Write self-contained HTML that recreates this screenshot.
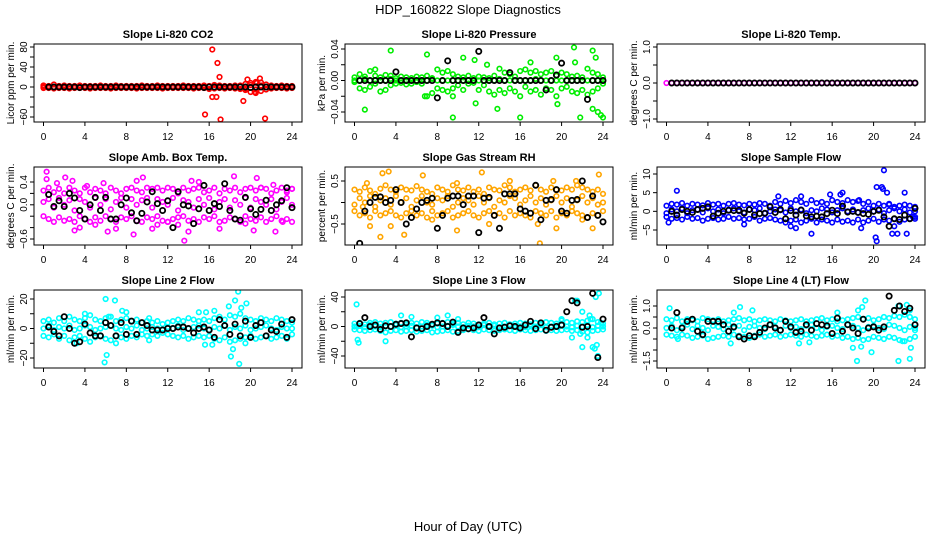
<!DOCTYPE html>
<html><head><meta charset="utf-8"><style>
html,body{margin:0;padding:0;background:#fff;}
svg{display:block;font-family:"Liberation Sans",sans-serif;}
</style></head><body>
<svg id="chart" width="936" height="540" viewBox="0 0 936 540">
<text x="468" y="14" text-anchor="middle" font-size="13">HDP_160822  Slope Diagnostics</text>
<text x="468" y="531" text-anchor="middle" font-size="13">Hour of Day (UTC)</text>
</svg>
<script>
const cloudHours=[0,0.5,1,1.5,2,2.5,3,3.5,4,4.5,5,5.5,6,6.5,7,7.5,8,8.5,9,9.5,10,10.5,11,11.5,12,12.5,13,13.5,14,14.5,15,15.5,16,16.5,17,17.5,18,18.5,19,19.5,20,20.5,21,21.5,22,22.5,23,23.5,24];
const blackHours=[0.5,1,1.5,2,2.5,3,3.5,4,4.5,5,5.5,6,6.5,7,7.5,8,8.5,9,9.5,10,10.5,11,11.5,12,12.5,13,13.5,14,14.5,15,15.5,16,16.5,17,17.5,18,18.5,19,19.5,20,20.5,21,21.5,22,22.5,23,23.5,24];
const xTicks=[0,4,8,12,16,20,24];

const co2Up=[3,2,5,2,3,2,2,3,2,2,2,3,2,2,3,2,2,2,2,3,2,2,3,2,2,2,2,3,2,2,2,3,2,4,3,2,2,3,3,6,8,10,9,5,3,2,3,2,2];
const co2Mid=[0,1,0,-1,0,1,0,0,-1,0,1,0,0,-1,0,1,0,0,0,-1,0,1,0,0,-1,0,0,1,0,0,-1,0,1,-2,0,1,0,-1,2,-3,4,-5,3,0,1,0,-1,0,0];
const co2Lo=[-2,-2,-3,-2,-2,-3,-2,-2,-2,-3,-2,-2,-2,-3,-2,-2,-2,-2,-3,-2,-2,-2,-2,-3,-2,-2,-2,-2,-2,-3,-2,-2,-4,-3,-2,-3,-2,-3,-4,-6,-10,-12,-8,-5,-3,-2,-2,-3,-2];
const co2OutX=[16.3,16.8,17,15.6,16.3,16.7,17.1,19.3,19.7,20.9,21.4,20.4,20.6];
const co2OutY=[75,48,20,-55,-20,-20,-65,-28,15,17,-63,-10,8];
const co2Black=[0,0,0,0,0,0,-1,0,0,0,0,0,0,0,0,0,0,0,0,0,0,0,0,0,0,0,0,0,0,0,-1,0,0,0,0,0,0,0,0,-1,0,0,0,0,0,0,0,0];

const presUp=[0.004,0.008,0.005,0.012,0.006,0.004,0.007,0.006,0.003,0.005,0.004,0.003,0.005,0.004,0.006,0.003,0.014,0.01,0.012,0.008,0.005,0.004,0.006,0.003,0.005,0.004,0.003,0.006,0.015,0.01,0.008,0.005,0.012,0.014,0.01,0.012,0.008,0.01,0.012,0.006,0.01,0.008,0.005,0.006,0.004,0.015,0.01,0.008,0.004];
const presMid=[0,0,0.002,0,0,0,0,0.002,0,0,0,0,0,0,0,0.002,0,0,0,0,0,0,0,0,0,0,0,0,0.002,0,0,0,0,0,0,0.002,0,0,0,0,0,0,0,0,0,0,0,0,0];
const presLo=[-0.002,-0.01,-0.012,-0.008,-0.004,-0.014,-0.012,-0.006,-0.004,-0.003,-0.005,-0.004,-0.002,-0.004,-0.02,-0.016,-0.01,-0.012,-0.014,-0.01,-0.006,-0.012,-0.004,-0.003,-0.012,-0.006,-0.014,-0.018,-0.012,-0.016,-0.01,-0.014,-0.02,-0.008,-0.014,-0.012,-0.018,-0.01,-0.012,-0.02,-0.01,-0.008,-0.014,-0.016,-0.012,-0.018,-0.014,-0.01,-0.004];
const presOutX=[3.5,1,7,9.5,11.6,11.7,13.8,16,10.5,12.8,19.5,19.6,21.2,21.8,23,23.3,23,23.5,23.8,24,21.3,17,9.5,6.8,2];
const presOutY=[0.038,-0.037,0.033,-0.047,0.026,-0.029,-0.036,-0.047,0.029,0.02,0.029,-0.03,0.042,-0.047,0.038,0.029,-0.036,-0.04,-0.044,-0.047,0.023,0.023,-0.02,-0.02,0.014];
const presBlack=[0,0,0,0,0,0,0,0.011,0,0,0,0,0,0,0,-0.022,0,0.025,0,0,0,0,0,0.037,0,0,0,0,0,0.01,0,0,0,0,0,0,-0.012,0,0.007,0.022,0,0,0,0,-0.024,0,0,0];

const tempMid=[0,0,0,0,0,0,0,0,0,0,0,0,0,0,0,0,0,0,0,0,0,0,0,0,0,0,0,0,0,0,0,0,0,0,0,0,0,0,0,0,0,0,0,0,0,0,0,0,0];
const tempBlack=[0,0,0,0,0,0,0,0,0,0,0,0,0,0,0,0,0,0,0,0,0,0,0,0,0,0,0,0,0,0,0,0,0,0,0,0,0,0,0,0,0,0,0,0,0,0,0,0];

const boxUp=[0.25,0.3,0.22,0.28,0.2,0.3,0.25,0.2,0.3,0.22,0.28,0.25,0.2,0.3,0.25,0.2,0.28,0.3,0.25,0.22,0.3,0.28,0.3,0.25,0.3,0.28,0.2,0.3,0.25,0.28,0.3,0.22,0.25,0.3,0.2,0.28,0.25,0.3,0.22,0.28,0.3,0.25,0.3,0.28,0.2,0.25,0.3,0.22,0.28];
const boxMid=[0.05,0.1,-0.05,0.12,0,0.08,-0.1,0.1,0.05,-0.05,0.12,0,0.1,-0.08,0.05,0.12,-0.05,0.1,0,0.08,0.12,-0.05,0.1,0.05,0,0.12,-0.1,0.08,0.05,-0.05,0.1,0,0.12,-0.08,0.05,0.1,-0.05,0.08,0,0.12,-0.05,0.1,0.05,0,0.1,-0.08,0.05,0.12,0];
const boxLo=[-0.2,-0.25,-0.3,-0.22,-0.28,-0.25,-0.3,-0.2,-0.25,-0.3,-0.22,-0.28,-0.2,-0.25,-0.3,-0.22,-0.25,-0.2,-0.28,-0.3,-0.22,-0.25,-0.2,-0.28,-0.3,-0.25,-0.22,-0.2,-0.28,-0.25,-0.3,-0.22,-0.25,-0.2,-0.3,-0.28,-0.22,-0.25,-0.3,-0.2,-0.25,-0.28,-0.22,-0.3,-0.25,-0.2,-0.28,-0.25,-0.3];
const boxOutX=[0.3,0.3,2.1,1.3,2.8,3,3.5,4.2,5,5.8,6.2,7,8.7,9,9.6,10.5,11,13,13.6,14.3,14,17,18.4,19.5,20.3,20.6,22.2,22.4,23.1,23.5,24,21,12,15];
const boxOutY=[0.58,0.45,0.48,0.38,0.42,-0.45,-0.4,0.33,-0.35,0.38,-0.47,-0.42,-0.52,0.42,0.48,-0.42,-0.35,-0.35,-0.63,0.42,-0.47,-0.42,0.5,-0.33,-0.45,0.47,0.35,-0.47,-0.3,0.25,0.28,0.3,-0.3,0.4];
const boxBlack=[0.18,-0.03,0.07,-0.03,0.2,0.12,-0.1,-0.25,0,0.13,-0.1,0.13,-0.25,-0.25,0,0.12,-0.14,-0.28,-0.15,0.05,0.23,0.02,-0.1,0.07,-0.4,0.23,0,-0.02,-0.33,-0.07,0.34,-0.1,0.02,-0.03,0.37,-0.1,-0.25,-0.27,0.13,-0.07,-0.17,-0.08,0.08,-0.1,0,0.07,0.3,-0.05];

const rhUp=[0.3,0.25,0.35,0.28,0.2,0.32,0.4,0.3,0.25,0.35,0.3,0.28,0.38,0.3,0.25,0.2,0.35,0.3,0.25,0.4,0.3,0.28,0.35,0.25,0.3,0.2,0.35,0.3,0.28,0.4,0.35,0.25,0.3,0.35,0.28,0.4,0.3,0.25,0.35,0.3,0.28,0.35,0.3,0.4,0.35,0.3,0.25,0.3,0.2];
const rhMid=[-0.05,0.1,0,0.15,-0.1,0.05,0.1,-0.05,0.15,0,0.1,-0.1,0.05,0.15,0,-0.05,0.1,0.05,0.15,-0.1,0,0.1,0.05,-0.05,0.15,0,0.1,-0.1,0.05,0,0.15,0.1,-0.05,0.05,0.15,0,0.1,-0.05,0.05,0.15,0,0.1,-0.1,0.05,0.15,0,0.1,-0.05,0];
const rhLo=[-0.2,-0.3,-0.25,-0.35,-0.2,-0.3,-0.25,-0.2,-0.3,-0.35,-0.25,-0.2,-0.3,-0.25,-0.35,-0.2,-0.3,-0.25,-0.2,-0.35,-0.3,-0.25,-0.2,-0.3,-0.35,-0.25,-0.2,-0.3,-0.25,-0.35,-0.2,-0.3,-0.25,-0.3,-0.35,-0.2,-0.25,-0.3,-0.2,-0.35,-0.25,-0.3,-0.2,-0.25,-0.3,-0.35,-0.25,-0.3,-0.2];
const rhOutX=[0.8,1.2,1.5,2.7,3.3,2.5,3.5,4.8,6.6,9.9,9.9,12.3,15,17.9,17.7,19.5,23.6,23,21.4,19.2,22,13,7.5];
const rhOutY=[-0.1,0.45,-0.55,0.68,0.72,-0.8,-0.55,-0.75,0.63,0.45,-0.65,0.7,0.5,-0.95,-0.5,-0.6,0.65,-0.6,0.5,0.5,-0.4,-0.5,-0.4];
const rhBlack=[-0.95,-0.2,0,0.12,0.13,0,0.05,0.3,0,-0.5,-0.35,-0.15,0,0.05,0.1,-0.6,-0.3,0.1,0.15,0.15,-0.05,0.15,0.15,-0.7,0.1,0.12,-0.3,-0.6,0.2,0.2,0.2,-0.15,-0.2,-0.25,0.4,-0.4,0.05,0.07,0.3,-0.2,-0.25,0.05,0.07,0.5,-0.35,0.15,-0.3,-0.45];

const sfUp=[1.5,2,1.8,2.2,1.5,2,1.8,1.6,2.2,1.8,2,1.5,2,2.2,1.8,1.6,2,1.8,2.2,2,1.5,2.5,2,2.8,2.2,3,2.5,2,3,2.2,2.5,2,3,2.5,2.2,3,2.5,2.8,2,2.5,1.5,2,1.5,1.8,1.2,1.5,1.8,1.5,1.2];
const sfMid=[-0.5,0.5,0,0.8,-0.5,0.3,0.5,-0.3,0.8,0,0.5,-0.5,0.3,0.8,0,-0.3,0.5,0.3,0.8,-0.5,0,0.5,0.3,-0.3,0.8,0,0.5,-0.5,0.3,0,0.8,0.5,-0.3,0.3,0.8,0,0.5,-0.3,0.3,0.8,0,0.5,-0.5,0.3,0.8,0,0.5,-0.3,0];
const sfLo=[-1.5,-2,-1.8,-2.2,-1.5,-2,-1.8,-2.5,-2,-1.8,-2.2,-2,-1.5,-2,-1.8,-2.2,-2,-1.5,-2.5,-2,-1.8,-2.2,-2.5,-3,-2.5,-2.2,-3,-2.5,-2,-3,-2.2,-2.5,-3,-2.2,-2.8,-2.5,-3,-2.2,-3,-2.5,-2,-2.8,-2.2,-2.5,-2,-2.8,-2.2,-2,-1.5];
const sfOutX=[1,10.8,13,14,15.8,16.8,17,18.6,18.8,20.2,20.3,20.3,20.8,20.9,21,21.3,21.5,21.8,22,22.3,23,23.2,23.8,0.2,7.5,12,12.5,24];
const sfOutY=[5.5,4,4,-6,4.5,4.5,5,3,-4.5,-7,-8,6.5,6.5,6,11,5,2,-6,-4,-6,5,-6,-1.5,-3,-3.5,-4,-4.5,-2];
const sfBlack=[0,-1,0.5,0,-0.3,0.5,0.8,1.2,-1.3,-0.5,0,0.3,0.2,0.3,-0.5,0.5,-1,-0.6,-0.5,1.2,-0.3,0.5,-2,0.2,-1,0.3,-1.2,-1.5,-1.3,-1.5,-0.6,0.3,-0.6,1.4,-0.2,0,-0.3,-0.6,-0.8,0,0.3,-1.5,-4,-2,-2.2,-1,-2,0.8];

const l2Up=[5,6,4,7,5,8,6,5,7,9,6,5,7,8,5,6,7,5,6,4,5,4,5,3,4,5,6,5,7,6,5,6,5,7,8,6,9,8,10,7,6,5,7,6,5,7,6,5,4];
const l2Mid=[0,2,-1,1,0,2,-1,0,2,1,-1,0,1,2,0,-1,1,0,2,-1,0,1,0,-1,1,0,2,-1,0,1,2,0,-1,1,0,2,-1,1,0,2,-1,0,1,2,0,-1,1,0,0];
const l2Lo=[-5,-6,-4,-7,-5,-8,-6,-5,-7,-9,-6,-5,-7,-8,-5,-6,-7,-5,-6,-4,-5,-4,-5,-3,-4,-5,-6,-5,-7,-6,-5,-6,-5,-7,-8,-6,-9,-8,-7,-6,-5,-7,-6,-5,-7,-6,-5,-7,-4];
const l2OutX=[6,6.9,6.1,5.9,7,7.6,8,6.3,15,15.7,16.5,15.6,16.3,17.9,18.5,18.8,18.9,18.3,18.1,19.5,19.6,19.1,4,3.2,10.2,10.2];
const l2OutY=[20,19,-18,-23,-10,12,11,8,11,11,12,-11,-11,15,19,25,-24,-14,-19,-10,17,14,10,-10,7,-8];
const l2Black=[1,-2,-5,8,0,-10,-9,3,-3,-5,-5,4,2,-5,4,-4,5,-4,4,2,-1,-1,-1,0,0,1,1,0,-3,0,1,-1,-6,6,2,-4,3,-5,5,-6,2,4,-5,-1,-2,3,-6,6];

const l3Up=[4,5,3,5,6,4,5,6,4,5,3,5,4,6,5,3,4,5,6,4,5,3,5,4,3,4,5,3,4,5,3,4,5,4,3,5,4,6,5,4,8,6,5,7,6,8,10,6,4];
const l3Mid=[0,1,-1,2,0,-1,1,0,2,-1,0,1,-1,0,2,1,-1,0,1,2,0,-1,1,0,-1,2,0,1,-1,0,2,1,0,-1,1,0,2,-1,0,1,2,0,-1,1,0,2,-1,1,0];
const l3Lo=[-4,-5,-6,-5,-4,-6,-8,-6,-5,-7,-6,-5,-7,-6,-5,-8,-7,-6,-5,-7,-6,-5,-4,-5,-6,-4,-5,-6,-5,-4,-5,-6,-4,-5,-6,-5,-4,-6,-5,-6,-5,-4,-6,-5,-7,-8,-6,-5,-4];
const l3OutX=[0.2,0.3,0.4,3,4.5,5.5,9,8,10,20,21,22,22.5,22.7,22.8,23,23.2,23.4,23.5,23.6,23.8,21.5,23.3,22,21.8,21.3];
const l3OutY=[30,-18,-22,-20,15,13,15,12,10,10,-15,-28,-15,15,10,-28,-30,-25,-40,45,5,35,40,20,-10,35];
const l3Black=[4,12,0,2,-4,1,0,3,4,5,-14,-2,-3,0,3,5,4,0,6,-8,-2,-3,-2,2,12,0,-10,-2,-1,1,0,-2,2,7,-3,5,-5,-1,0,2,20,35,32,-1,0,45,-42,10];

const l4Up=[0.4,0.35,0.45,0.3,0.4,0.35,0.3,0.45,0.4,0.35,0.4,0.3,0.35,0.4,0.45,0.35,0.4,0.3,0.35,0.4,0.35,0.3,0.4,0.35,0.3,0.35,0.4,0.3,0.35,0.4,0.45,0.35,0.4,0.3,0.35,0.4,0.45,0.5,0.4,0.45,0.35,0.4,0.5,0.45,0.55,0.5,0.6,0.5,0.4];
const l4Mid=[0,0.1,-0.1,0.05,0.15,-0.05,0.1,0,-0.1,0.1,0.05,-0.05,0.15,0,0.1,-0.1,0.05,0.1,0,-0.05,0.15,0.05,-0.1,0.1,0,0.05,-0.05,0.1,0.15,0,-0.1,0.05,0.1,0,-0.05,0.15,0.1,0,-0.1,0.05,0.1,0,-0.05,0.15,0.1,0,-0.1,0.05,0];
const l4Lo=[-0.3,-0.35,-0.4,-0.3,-0.35,-0.45,-0.4,-0.35,-0.5,-0.45,-0.4,-0.35,-0.4,-0.3,-0.35,-0.4,-0.45,-0.35,-0.3,-0.4,-0.35,-0.3,-0.4,-0.35,-0.3,-0.35,-0.4,-0.3,-0.35,-0.4,-0.35,-0.3,-0.4,-0.35,-0.45,-0.4,-0.5,-0.45,-0.55,-0.5,-0.4,-0.45,-0.5,-0.4,-0.45,-0.55,-0.6,-0.5,-0.4];
const l4OutX=[0.3,7.1,8.3,6.5,6.2,12.8,13.8,18.4,18,18.8,19.8,19.2,18.5,18.9,22.4,23.5,23.6,22.8,22.4,23.2,23.5,24,1.1,16.5];
const l4OutY=[0.9,0.95,0.8,0.7,-0.7,-0.7,-0.65,-1.5,-0.9,-0.85,-1.1,1.25,0.8,0.95,-1.5,-1.4,-0.9,-0.6,1.0,1.05,0.8,-0.1,-0.5,0.7];
const l4Black=[0,0.7,0,0.3,0.4,-0.15,-0.3,0.3,0.3,0.3,0.15,-0.15,0.05,-0.4,-0.5,-0.35,-0.4,-0.2,0,0.15,0,-0.1,0.3,0.05,-0.2,-0.15,0.15,-0.1,0.2,0.15,0.1,-0.25,0.45,-0.15,0.15,0,-0.25,0.4,0,0.05,-0.1,0.05,1.45,0.8,1.0,0.75,0.9,0.15];

const NS='http://www.w3.org/2000/svg';
const svg=document.getElementById('chart');
function mk(tag,attrs,parent){const e=document.createElementNS(NS,tag);for(const k in attrs)e.setAttribute(k,attrs[k]);(parent||svg).appendChild(e);return e;}

const colX=[34,345,657], rowY=[44,167,290], W=268, H=78;
const panels=[
 {title:'Slope Li-820 CO2',slug:'co2',ylab:'Licor ppm per min.',col:0,row:0,color:'#ff0000',clouds:[co2Up,co2Mid,co2Lo],ox:co2OutX,oy:co2OutY,black:co2Black,v1:80,p1:47,v2:-60,p2:117,ticks:[-60,-40,-20,0,20,40,60,80],labels:[-60,0,40,80],dec:0},
 {title:'Slope Li-820 Pressure',slug:'pressure',ylab:'kPa per min.',col:1,row:0,color:'#00ee00',clouds:[presUp,presMid,presLo],ox:presOutX,oy:presOutY,black:presBlack,v1:0.04,p1:49,v2:-0.04,p2:112,ticks:[-0.04,-0.02,0,0.02,0.04],labels:[-0.04,0,0.04],dec:2},
 {title:'Slope Li-820 Temp.',slug:'temp',ylab:'degrees C per min.',col:2,row:0,color:'#ff00ff',clouds:[tempMid],ox:[],oy:[],black:tempBlack,v1:1,p1:47,v2:-1,p2:119,ticks:[-1,-0.5,0,0.5,1],labels:[-1,0,1],dec:1},
 {title:'Slope Amb. Box Temp.',slug:'box-temp',ylab:'degrees C per min.',col:0,row:1,color:'#ff00ff',clouds:[boxUp,boxMid,boxLo],ox:boxOutX,oy:boxOutY,black:boxBlack,v1:0.4,p1:182,v2:-0.6,p2:239,ticks:[-0.6,-0.4,-0.2,0,0.2,0.4],labels:[-0.6,0,0.4],dec:1},
 {title:'Slope Gas Stream RH',slug:'rh',ylab:'percent per min.',col:1,row:1,color:'#ffa500',clouds:[rhUp,rhMid,rhLo],ox:rhOutX,oy:rhOutY,black:rhBlack,v1:0.5,p1:181,v2:-0.5,p2:224,ticks:[-0.5,0,0.5],labels:[-0.5,0.5],dec:1},
 {title:'Slope Sample Flow',slug:'sample-flow',ylab:'ml/min per min.',col:2,row:1,color:'#0000ff',clouds:[sfUp,sfMid,sfLo],ox:sfOutX,oy:sfOutY,black:sfBlack,v1:10,p1:174,v2:-5,p2:230,ticks:[-5,0,5,10],labels:[-5,0,5,10],dec:0},
 {title:'Slope Line 2 Flow',slug:'line2-flow',ylab:'ml/min per min.',col:0,row:2,color:'#00ffff',clouds:[l2Up,l2Mid,l2Lo],ox:l2OutX,oy:l2OutY,black:l2Black,v1:20,p1:299,v2:-20,p2:358,ticks:[-20,-10,0,10,20],labels:[-20,0,20],dec:0},
 {title:'Slope Line 3 Flow',slug:'line3-flow',ylab:'ml/min per min.',col:1,row:2,color:'#00ffff',clouds:[l3Up,l3Mid,l3Lo],ox:l3OutX,oy:l3OutY,black:l3Black,v1:40,p1:297,v2:-40,p2:356,ticks:[-40,-20,0,20,40],labels:[-40,0,40],dec:0},
 {title:'Slope Line 4 (LT) Flow',slug:'line4-flow',ylab:'ml/min per min.',col:2,row:2,color:'#00ffff',clouds:[l4Up,l4Mid,l4Lo],ox:l4OutX,oy:l4OutY,black:l4Black,v1:1,p1:306,v2:-1.5,p2:361,ticks:[-1.5,-1,-0.5,0,0.5,1],labels:[-1.5,0,1],dec:1}
];

panels.forEach(p=>{
 const x0=colX[p.col], y0=rowY[p.row];
 const g=mk('g',{});
 
 
 const xs=h=>x0+9.5+h*(W-19.5)/24;
 const ys=v=>p.p2+(v-p.v2)*(p.p1-p.p2)/(p.v1-p.v2);
 const clip='clip-'+p.slug;
 const cp=mk('clipPath',{id:clip},g);mk('rect',{x:x0,y:y0,width:W,height:H},cp);
 const t=mk('text',{x:x0+W/2,y:y0-6,'text-anchor':'middle','font-size':'11','font-weight':'bold'},g);t.textContent=p.title;
 
 
 const marks=mk('g',{'clip-path':'url(#'+clip+')'},g);
 
 
 p.clouds.forEach(arr=>arr.forEach((v,i)=>{
  const c=mk('circle',{cx:xs(cloudHours[i]),cy:ys(v),r:2.3,fill:'none',stroke:p.color,'stroke-width':1.6},marks);
  
  
 }));
 p.ox.forEach((h,i)=>{
  const c=mk('circle',{cx:xs(h),cy:ys(p.oy[i]),r:2.3,fill:'none',stroke:p.color,'stroke-width':1.6},marks);
  
  
 });
 p.black.forEach((v,i)=>{
  const c=mk('circle',{cx:xs(blackHours[i]),cy:ys(v),r:2.6,fill:'none',stroke:'#000','stroke-width':1.8},marks);
  
  
 });
 const box=mk('rect',{x:x0,y:y0,width:W,height:H,fill:'none',stroke:'#000','stroke-width':1},g);
 
 
 xTicks.forEach(h=>{
  mk('line',{x1:xs(h),x2:xs(h),y1:y0+H,y2:y0+H+4,stroke:'#000'},g);
  const l=mk('text',{x:xs(h),y:y0+H+18,'text-anchor':'middle','font-size':'10'},g);l.textContent=h;
  
  
 });
 p.ticks.forEach(v=>mk('line',{x1:x0-4,x2:x0,y1:ys(v),y2:ys(v),stroke:'#000'},g));
 p.labels.forEach(v=>{
  const yy=ys(v);
  const l=mk('text',{x:x0-7,y:yy,'text-anchor':'middle','font-size':'10',transform:'rotate(-90 '+(x0-7)+' '+yy+')'},g);
  l.textContent=v.toFixed(p.dec).replace('-','\u2212');
  
  
 });
 const yc=y0+H/2, xt=x0-20;
 const yl=mk('text',{x:xt,y:yc,'text-anchor':'middle','font-size':'10',transform:'rotate(-90 '+xt+' '+yc+')'},g);yl.textContent=p.ylab;
 
 
});
</script>
</body></html>
